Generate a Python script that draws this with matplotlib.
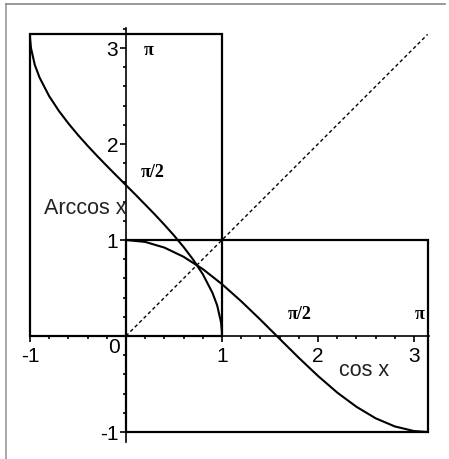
import numpy as np
import matplotlib.pyplot as plt
from matplotlib.lines import Line2D
from matplotlib.patches import Rectangle
from matplotlib.ticker import FixedLocator, FixedFormatter

# arccos x on [-1, 1]
arccos_x = [-1.0, -0.999, -0.99, -0.95, -0.9, -0.8, -0.7, -0.6, -0.5, -0.4, -0.3, -0.2, -0.1,
            0.0, 0.1, 0.2, 0.3, 0.4, 0.5, 0.6, 0.7, 0.8, 0.9, 0.95, 0.99, 0.999, 1.0]
arccos_y = [3.142, 3.097, 3.000, 2.824, 2.691, 2.498, 2.346, 2.214, 2.094, 1.982, 1.875, 1.772, 1.671,
            1.571, 1.471, 1.369, 1.266, 1.159, 1.047, 0.927, 0.795, 0.644, 0.451, 0.318, 0.142, 0.045, 0.0]

# cos x on [0, pi]
cos_x = [0.0, 0.2, 0.4, 0.6, 0.8, 1.0, 1.2, 1.4, 1.6, 1.8, 2.0, 2.2, 2.4, 2.6, 2.8, 3.0, 3.142]
cos_y = [1.0, 0.980, 0.921, 0.825, 0.697, 0.540, 0.362, 0.170, -0.029, -0.227, -0.416, -0.589,
         -0.737, -0.857, -0.942, -0.990, -1.0]

# y = x diagonal
diag = [0.0, 3.142]

# boxes: domain x range of each function
arccos_dom = [-1.0, 1.0]
arccos_rng = [0.0, 3.142]
cos_dom = [0.0, 3.142]
cos_rng = [-1.0, 1.0]

xticks_major = [-1, 1, 2, 3]
yticks_major = [-1, 1, 2, 3]

fig = plt.figure(figsize=(4.49, 4.60), dpi=100)
ax = fig.add_axes([0, 0, 1, 1])
ax.set_xlim(-126 / 96, 323 / 96)
ax.set_ylim(-123 / 96, 337 / 96)

for s in ['top', 'right']:
    ax.spines[s].set_visible(False)
ax.spines['left'].set_position(('data', 0))
ax.spines['bottom'].set_position(('data', 0))
ax.spines['left'].set_bounds(-1.1, 3.21)
ax.spines['bottom'].set_bounds(-1.0, 3.16)
ax.spines['left'].set_linewidth(1.2)
ax.spines['bottom'].set_linewidth(1.2)

ax.xaxis.set_major_locator(FixedLocator(xticks_major))
ax.xaxis.set_major_formatter(FixedFormatter([str(t) for t in xticks_major]))
ax.yaxis.set_major_locator(FixedLocator(yticks_major))
ax.yaxis.set_major_formatter(FixedFormatter([str(t) for t in yticks_major]))
ax.xaxis.set_minor_locator(FixedLocator(np.arange(-0.8, 3.01, 0.2)))
ax.yaxis.set_minor_locator(FixedLocator(np.arange(-0.8, 3.21, 0.2)))
ax.tick_params(which='major', direction='out', length=4, width=1.2, labelsize=15, pad=3.5)
ax.tick_params(axis='y', which='major', pad=1.5)
ax.tick_params(which='minor', direction='out', length=2.5, width=1.2)
for lab in ax.get_xticklabels() + ax.get_yticklabels():
    lab.set_fontfamily('Liberation Sans')

# boxes
ax.add_patch(Rectangle((arccos_dom[0], arccos_rng[0]), arccos_dom[1] - arccos_dom[0],
                       arccos_rng[1] - arccos_rng[0], fill=False, lw=1.6, ec='black'))
ax.add_patch(Rectangle((cos_dom[0], cos_rng[0]), cos_dom[1] - cos_dom[0],
                       cos_rng[1] - cos_rng[0], fill=False, lw=1.6, ec='black'))

ax.plot(arccos_x, arccos_y, color='black', lw=1.5)
ax.plot(cos_x, cos_y, color='black', lw=1.5)
ax.plot(diag, diag, color='black', lw=1.0, linestyle=(0, (2.5, 2)))

serif = dict(family='Liberation Serif', fontweight='bold', fontsize=13, ha='center', va='center')
ax.text(0.24, 2.98, 'π', **serif)
ax.text(0.28, 1.71, 'π/2', **serif)
ax.text(1.81, 0.23, 'π/2', **serif)
ax.text(3.06, 0.23, 'π', **serif)

sans = dict(family='Liberation Sans', fontsize=15.5, color='#222222')
ax.text(0.01, 1.34, 'Arccos x', ha='right', va='center', **sans)
ax.text(2.48, -0.35, 'cos x', ha='center', va='center', **sans)
ax.text(-0.125, -0.11, '0', ha='center', va='center', family='Liberation Sans', fontsize=15)

# light frame on the top and left
fig.add_artist(Line2D([6 / 449, 6 / 449], [0, 1 - 5 / 460], transform=fig.transFigure,
                      color='#999999', lw=1.2))
fig.add_artist(Line2D([6 / 449, 445 / 449], [1 - 5 / 460, 1 - 5 / 460], transform=fig.transFigure,
                      color='#888888', lw=1.2))

fig.savefig('out.png', dpi=100)
